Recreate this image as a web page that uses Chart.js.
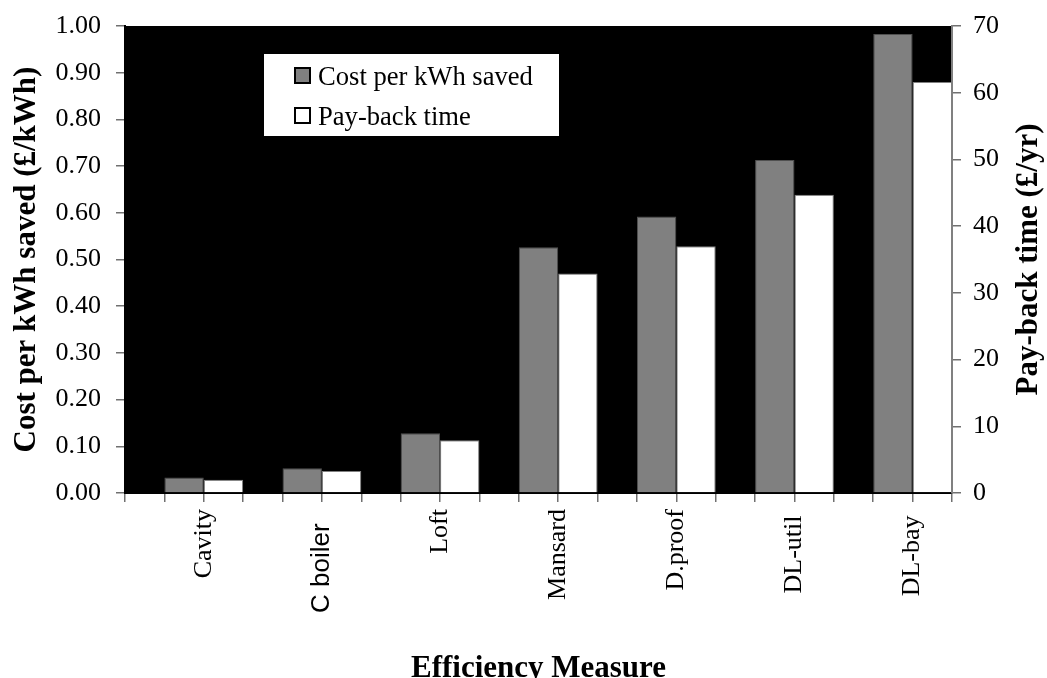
<!DOCTYPE html>
<html>
<head>
<meta charset="utf-8">
<script src="https://cdn.jsdelivr.net/npm/chart.js@4.4.0/dist/chart.umd.min.js"></script>
<style>
html,body{margin:0;padding:0;background:#fff;}
canvas{display:block;}
</style>
</head>
<body>
<canvas id="c" width="1047" height="678"></canvas>
<script>
// ---- data ----
const categories = ['Cavity', 'C boiler  ', 'Loft', 'Mansard', 'D.proof', 'DL-util ', 'DL-bay '];
const costPerKwhSaved = [0.033, 0.053, 0.128, 0.526, 0.592, 0.713, 0.983];
const paybackTime = [2.0, 3.3, 7.9, 32.9, 37.0, 44.7, 61.6];
const seriesLabels = ['Cost per kWh saved', 'Pay-back time'];
const xTitle = 'Efficiency Measure';
const yLeftTitle = 'Cost per kWh saved (\u00a3/kWh)';
const yRightTitle = 'Pay-back time (\u00a3/yr)';

const SERIF = '"Liberation Serif", "Times New Roman", serif';
const SANS = '"Liberation Sans", Arial, sans-serif';

const toPoints = arr => arr.map((v, i) => ({x: i, y: v}));

const bgPlugin = {
  id: 'bg',
  beforeDraw(chart) {
    const {ctx, chartArea: a} = chart;
    ctx.save();
    ctx.fillStyle = '#ffffff';
    ctx.fillRect(0, 0, chart.width, chart.height);
    ctx.fillStyle = '#000000';
    ctx.fillRect(a.left, a.top, a.right - a.left, a.bottom - a.top);
    ctx.restore();
  }
};

const legendPlugin = {
  id: 'boxLegend',
  afterDatasetsDraw(chart) {
    const {ctx, chartArea: a} = chart;
    const x = a.left + 139, y = a.top + 28, w = 295, h = 82;
    ctx.save();
    ctx.fillStyle = '#ffffff';
    ctx.fillRect(x, y, w, h);
    chart.data.datasets.forEach((ds, i) => {
      const sy = y + 13 + i * 40;
      ctx.fillStyle = ds.backgroundColor;
      ctx.fillRect(x + 30, sy, 17, 17);
      ctx.lineWidth = 2;
      ctx.strokeStyle = '#000000';
      ctx.strokeRect(x + 31, sy + 1, 15, 15);
      ctx.fillStyle = '#000000';
      ctx.font = '26.6px ' + SERIF;
      ctx.textBaseline = 'alphabetic';
      ctx.textAlign = 'left';
      ctx.fillText(ds.label, x + 54, sy + 18);
    });
    ctx.restore();
  }
};

const rightTitlePlugin = {
  id: 'rightTitle',
  afterDraw(chart) {
    const s = chart.scales.y1;
    const a = chart.chartArea;
    const ctx = chart.ctx;
    ctx.save();
    ctx.translate(s.right - 18, (a.top + a.bottom) / 2);
    ctx.rotate(-Math.PI / 2);
    ctx.textAlign = 'center';
    ctx.textBaseline = 'middle';
    ctx.fillStyle = '#000000';
    ctx.font = 'bold 31px ' + SERIF;
    ctx.fillText(yRightTitle, 0, 0);
    ctx.restore();
  }
};

new Chart(document.getElementById('c'), {
  type: 'bar',
  data: {
    datasets: [
      {
        label: seriesLabels[0],
        data: toPoints(costPerKwhSaved),
        yAxisID: 'y',
        backgroundColor: '#808080',
        borderColor: '#505050',
        borderWidth: 1,
        categoryPercentage: 2,
        barPercentage: 1
      },
      {
        label: seriesLabels[1],
        data: toPoints(paybackTime),
        yAxisID: 'y1',
        backgroundColor: '#ffffff',
        borderColor: '#808080',
        borderWidth: 1,
        categoryPercentage: 2,
        barPercentage: 1
      }
    ]
  },
  options: {
    responsive: false,
    animation: false,
    events: [],
    layout: {padding: {top: 26, left: 0, right: 0, bottom: 0}},
    plugins: {
      legend: {display: false},
      tooltip: {enabled: false}
    },
    scales: {
      x: {
        type: 'linear',
        position: 'bottom',
        min: -2 / 3,
        max: categories.length - 2 / 3,
        offset: false,
        afterBuildTicks(scale) {
          const t = [];
          for (let k = 0; k <= categories.length * 3; k++) t.push({value: -2 / 3 + k / 3});
          scale.ticks = t;
        },
        afterFit(scale) { scale.height = 185; },
        grid: {display: true, offset: false, drawOnChartArea: false, drawTicks: true, tickLength: 9, color: '#707070', lineWidth: 1.5},
        border: {display: true, color: '#000000', width: 2},
        ticks: {
          autoSkip: false,
          minRotation: 90,
          maxRotation: 90,
          padding: 7,
          color: '#000000',
          font: (ctx) => {
            const v = ctx.tick ? ctx.tick.value : 0;
            const i = Math.round(v);
            const isSans = Math.abs(v - i) < 1e-6 && categories[i] === 'C boiler  ';
            return {family: isSans ? SANS : SERIF, size: 26};
          },
          callback: (value) => {
            const i = Math.round(value);
            if (Math.abs(value - i) < 1e-6 && i >= 0 && i < categories.length) return categories[i];
            return '';
          }
        },
        title: {
          display: true,
          text: xTitle,
          color: '#000000',
          font: {family: SERIF, size: 31, weight: 'bold', lineHeight: 0.6},
          padding: {top: 0, bottom: 0}
        }
      },
      y: {
        position: 'left',
        min: 0,
        max: 1,
        afterFit(scale) { scale.width = 125; },
        grid: {display: true, drawOnChartArea: false, drawTicks: true, tickLength: 9, color: '#707070', lineWidth: 1.5},
        border: {display: true, color: '#000000', width: 2},
        ticks: {
          stepSize: 0.1,
          padding: 15,
          color: '#000000',
          font: {family: SERIF, size: 26, lineHeight: 0.8},
          callback: (v) => Number(v).toFixed(2)
        },
        title: {
          display: true,
          text: yLeftTitle,
          color: '#000000',
          font: {family: SERIF, size: 31, weight: 'bold', lineHeight: 0.8},
          padding: {top: 14.6, bottom: 0}
        }
      },
      y1: {
        position: 'right',
        min: 0,
        max: 70,
        afterFit(scale) { scale.width = 95; },
        grid: {display: true, drawOnChartArea: false, drawTicks: true, tickLength: 9, color: '#707070', lineWidth: 1.5},
        border: {display: true, color: '#808080', width: 2},
        ticks: {
          stepSize: 10,
          padding: 12,
          color: '#000000',
          font: {family: SERIF, size: 26, lineHeight: 0.8}
        },
        title: {display: false, text: yRightTitle}
      }
    }
  },
  plugins: [bgPlugin, legendPlugin, rightTitlePlugin]
});
</script>
</body>
</html>
